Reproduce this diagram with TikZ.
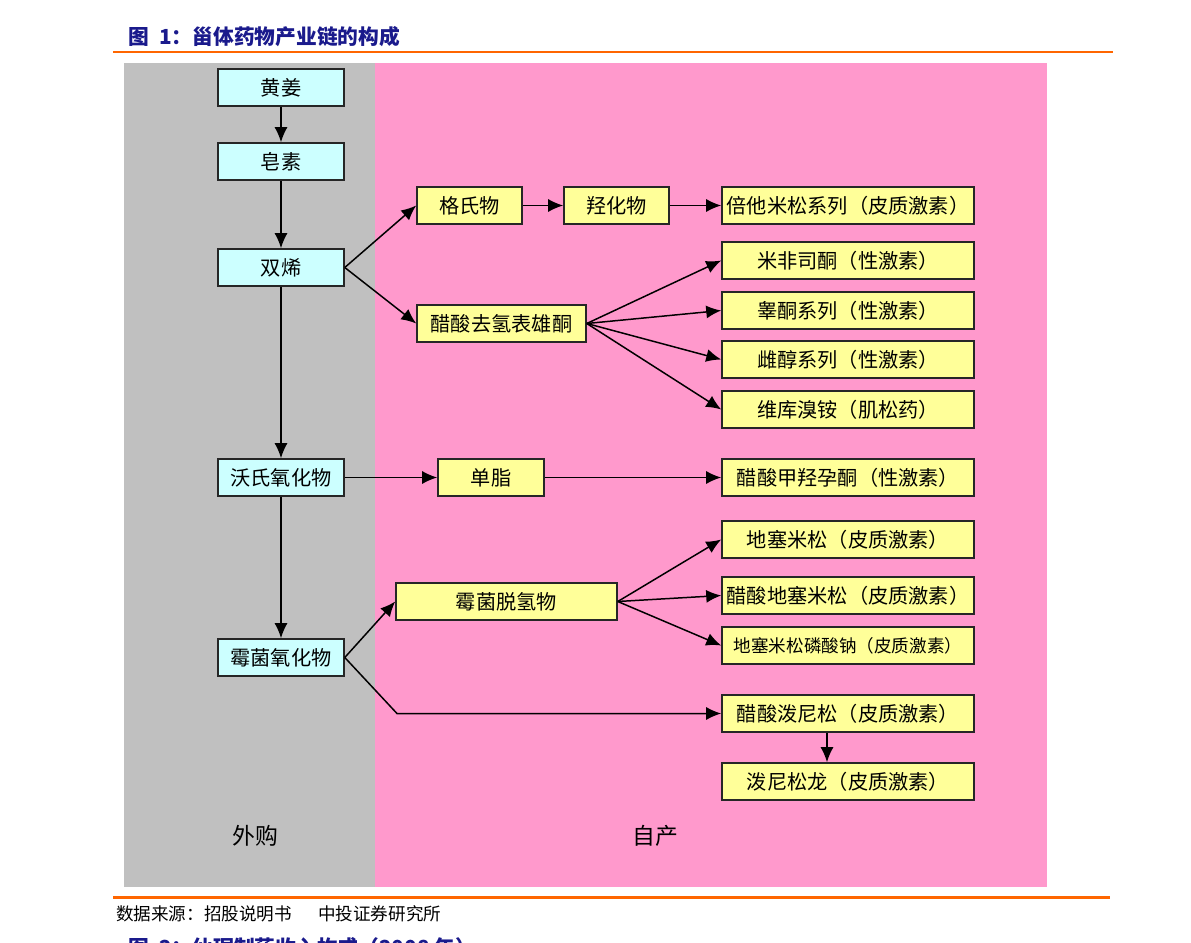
\documentclass[tikz,border=0pt]{standalone}
\usepackage{fontspec}
\setmainfont{Noto Sans CJK SC}
\usetikzlibrary{arrows.meta,positioning,calc}
\definecolor{chaingray}{HTML}{C0C0C0}
\definecolor{chainpink}{HTML}{FF99CC}
\definecolor{chaincyan}{HTML}{CCFFFF}
\definecolor{chainyellow}{HTML}{FFFF99}
\definecolor{chainnavy}{HTML}{1A1A8C}
\definecolor{chainorange}{HTML}{FF6600}
\tikzset{
  buybox/.style={
    draw=black!85,
    fill=chaincyan,
    line width=0.9pt,
    minimum width=2.52cm,
    minimum height=0.74cm,
    inner sep=1pt,
    font=\fontsize{11.5}{13}\selectfont
  },
  ownbox/.style={
    draw=black!85,
    fill=chainyellow,
    line width=0.9pt,
    minimum width=5.04cm,
    minimum height=0.74cm,
    inner sep=1pt,
    font=\fontsize{11.5}{13}\selectfont
  },
  arrow/.style={
    -{Latex[length=3mm,width=2.6mm]},
    line width=0.85pt,
    draw=black
  }
}
\begin{document}
\begin{tikzpicture}[x=0.02cm,y=-0.02cm]
\useasboundingbox (0,0) rectangle (1191,943);
% header and footer
\node[anchor=west, text=chainnavy, font=\bfseries\fontsize{11.8}{13}\selectfont] (title) at (122,37) {图\hspace{0.5em}1：甾体药物产业链的构成};
\draw[chainorange, line width=1.7pt] (113,52) -- (1113,52);
\draw[chainorange, line width=1.3pt] (113,897.5) -- (1110,897.5);
\node[anchor=west, font=\fontsize{10}{12}\selectfont] (source) at (110,914) {数据来源：招股说明书\hspace{1.5em}中投证券研究所};
\node[anchor=west, text=chainnavy, font=\bfseries\fontsize{11.8}{13}\selectfont] (nexttitle) at (122,948) {图\hspace{0.5em}2：仙琚制药收入构成（2008 年）};

% two zones
\fill[chaingray] (124,63) rectangle (375,887);
\fill[chainpink] (375,63) rectangle (1047,887);
\node[font=\fontsize{13}{15}\selectfont] (waigou) at (255,836) {外购};
\node[font=\fontsize{13}{15}\selectfont] (zichan) at (655,836) {自产};

% bought
\node[buybox] (huangjiang) at (281,87.5) {黄姜};
\node[buybox] (zaosu) at (281,161.5) {皂素};
\node[buybox] (shuangxi) at (281,267.5) {双烯};
\node[buybox] (woshi) at (281,477.5) {沃氏氧化物};
\node[buybox] (meijunyang) at (281,657.5) {霉菌氧化物};

% made
\node[ownbox, minimum width=2.1cm] (geshi) at (469.5,205.5) {格氏物};
\node[ownbox, minimum width=2.1cm] (qianghua) at (616.5,205.5) {羟化物};
\node[ownbox] (beita) at (848,205.5) {倍他米松系列（皮质激素）};
\node[ownbox, minimum width=3.38cm] (quqing) at (501.5,323.5) {醋酸去氢表雄酮};
\node[ownbox] (mifei) at (848,260.5) {米非司酮（性激素）};
\node[ownbox] (gaotong) at (848,310.5) {睾酮系列（性激素）};
\node[ownbox] (cichun) at (848,359.5) {雌醇系列（性激素）};
\node[ownbox] (weiku) at (848,409.5) {维库溴铵（肌松药）};
\node[ownbox, minimum width=2.12cm] (danzhi) at (491,477.5) {单脂};
\node[ownbox] (jiaqiang) at (848,477.5) {醋酸甲羟孕酮（性激素）};
\node[ownbox] (disai) at (848,539.5) {地塞米松（皮质激素）};
\node[ownbox, minimum width=4.42cm] (meijuntuo) at (506.5,601.5) {霉菌脱氢物};
\node[ownbox] (cudisai) at (848,595.5) {醋酸地塞米松（皮质激素）};
\node[ownbox, font=\fontsize{10}{12}\selectfont] (linsuanna) at (848,645.5) {地塞米松磷酸钠（皮质激素）};
\node[ownbox] (poni) at (848,713.5) {醋酸泼尼松（皮质激素）};
\node[ownbox] (ponilong) at (848,781.5) {泼尼松龙（皮质激素）};

% links
\draw[arrow] (huangjiang) -- (zaosu);
\draw[arrow] (zaosu) -- (shuangxi);
\draw[arrow] (shuangxi) -- (woshi);
\draw[arrow] (woshi) -- (meijunyang);
\draw[arrow] (shuangxi.east) -- (geshi.west);
\draw[arrow] (shuangxi.east) -- (quqing.west);
\draw[arrow] (geshi) -- (qianghua);
\draw[arrow] (qianghua) -- (beita);
\foreach \t in {mifei,gaotong,cichun,weiku}
  \draw[arrow] (quqing.east) -- (\t.west);
\draw[arrow] (woshi) -- (danzhi);
\draw[arrow] (danzhi) -- (jiaqiang);
\draw[arrow] (meijunyang.east) -- (meijuntuo.west);
\foreach \t in {disai,cudisai,linsuanna}
  \draw[arrow] (meijuntuo.east) -- (\t.west);
\coordinate (bend) at (397,713.5);
\draw[arrow] (meijunyang.east) -- (bend) -- (poni.west);
\draw[arrow] ([xshift=-0.42cm]poni.south) -- ([xshift=-0.42cm]ponilong.north);
\end{tikzpicture}
\end{document}
